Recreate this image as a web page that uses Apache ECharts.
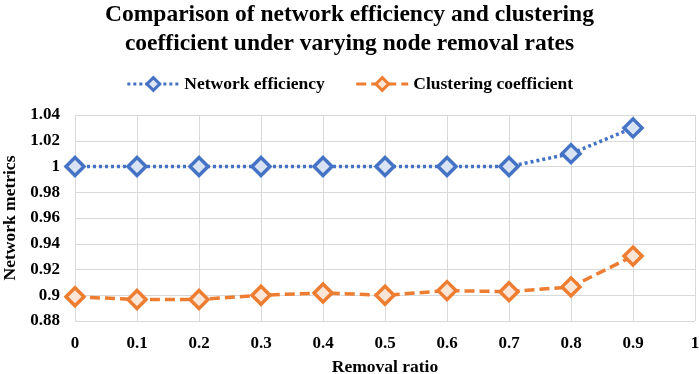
<!DOCTYPE html>
<html><head><meta charset="utf-8">
<script src="https://cdn.jsdelivr.net/npm/echarts@6/dist/echarts.min.js"></script>
<style>html,body{margin:0;padding:0;background:#fff}#c{width:699px;height:374px}</style>
</head><body><div id="c"></div>
<script>
const removalRatio = [0, 0.1, 0.2, 0.3, 0.4, 0.5, 0.6, 0.7, 0.8, 0.9];
const networkEfficiency = [1.000, 1.000, 1.000, 1.000, 1.000, 1.000, 1.000, 1.000, 1.010, 1.030];
const clusteringCoefficient = [0.8988, 0.8967, 0.8967, 0.9000, 0.9018, 0.9000, 0.9036, 0.9028, 0.9065, 0.9304];
const seriesNames = ['Network efficiency', 'Clustering coefficient'];

const F = 'Liberation Serif, Times New Roman, serif';
const chart = echarts.init(document.getElementById('c'));
const fmt = v => String(parseFloat(v.toFixed(2)));
chart.setOption({
  animation: false,
  title: {
    text: 'Comparison of network efficiency and clustering\ncoefficient under varying node removal rates',
    left: 'center', top: -5,
    textStyle: { fontFamily: F, fontWeight: 'bold', fontSize: 23.5, lineHeight: 29, color: '#000' }
  },
  legend: {
    top: 70, left: 'center', itemWidth: 52, itemHeight: 16, itemGap: 30,
    itemStyle: { borderWidth: 3 },
    lineStyle: { width: 3 },
    textStyle: { fontFamily: F, fontWeight: 'bold', fontSize: 17.5, color: '#000' },
    data: seriesNames
  },
  grid: { left: 75, right: 4, top: 115, bottom: 53, outerBoundsMode: 'none', containLabel: false },
  xAxis: {
    type: 'value', min: 0, max: 1, interval: 0.1,
    name: 'Removal ratio', nameLocation: 'middle', nameGap: 37,
    nameTextStyle: { fontFamily: F, fontWeight: 'bold', fontSize: 17.5, color: '#000' },
    axisLine: { show: false }, axisTick: { show: false },
    axisLabel: { fontFamily: F, fontWeight: 'bold', fontSize: 17, color: '#000', margin: 14, formatter: fmt },
    splitLine: { show: true, lineStyle: { color: '#d9d9d9', width: 1 } }
  },
  yAxis: {
    type: 'value', min: 0.88, max: 1.04, interval: 0.02,
    name: 'Network metrics', nameLocation: 'middle', nameGap: 56,
    nameTextStyle: { fontFamily: F, fontWeight: 'bold', fontSize: 17.5, color: '#000' },
    axisLine: { show: false }, axisTick: { show: false },
    axisLabel: { fontFamily: F, fontWeight: 'bold', fontSize: 17, color: '#000', margin: 15, formatter: fmt },
    splitLine: { show: true, lineStyle: { color: '#d9d9d9', width: 1 } }
  },
  series: [
    {
      name: seriesNames[0], type: 'line',
      data: removalRatio.map((x, i) => [x, networkEfficiency[i]]),
      symbol: 'diamond', symbolSize: 18,
      lineStyle: { color: '#4472C4', width: 3.5, type: [3, 3] },
      itemStyle: { color: '#DAE3F3', borderColor: '#4472C4', borderWidth: 3.5 }
    },
    {
      name: seriesNames[1], type: 'line',
      data: removalRatio.map((x, i) => [x, clusteringCoefficient[i]]),
      symbol: 'diamond', symbolSize: 18,
      lineStyle: { color: '#ED7D31', width: 3.5, type: [10, 5] },
      itemStyle: { color: '#FBE5D6', borderColor: '#ED7D31', borderWidth: 3.5 }
    }
  ]
});
</script></body></html>
